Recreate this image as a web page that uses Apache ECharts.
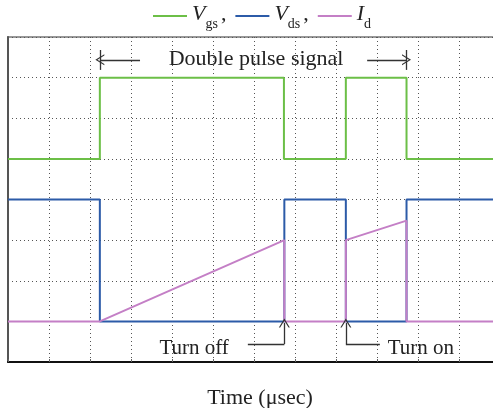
<!DOCTYPE html>
<html>
<head>
    <meta charset="utf-8">
    <title>Double pulse test</title>
    <script src="https://cdn.jsdelivr.net/npm/echarts@6/dist/echarts.min.js"></script>
    <style>
        html, body { margin: 0; padding: 0; background: #fff; }
    </style>
</head>
<body>
    <div id="main" style="width:493px;height:408px;"></div>
    <script type="text/javascript">
        // time in grid divisions, level in grid divisions
        var vgsTime = [0, 2.24, 2.24, 6.73, 6.73, 8.24, 8.24, 9.72, 9.72, 12];
        var vgsLevel = [5, 5, 7, 7, 5, 5, 7, 7, 5, 5];
        var vdsTime = [0, 2.24, 2.24, 6.74, 6.74, 8.24, 8.24, 9.72, 9.72, 12];
        var vdsLevel = [4, 4, 1, 1, 4, 4, 1, 1, 4, 4];
        var idTime = [0, 2.24, 6.74, 6.74, 8.24, 8.24, 9.72, 9.72, 12];
        var idLevel = [1, 1, 3, 1, 1, 3, 3.48, 1, 1];

        var serif = '"Liberation Serif", "DejaVu Serif", serif';

        function pairs(xs, ys) {
            var out = [];
            for (var i = 0; i < xs.length; i++) out.push([xs[i], ys[i]]);
            return out;
        }

        // thin open arrow head, tip pointing up
        var openArrow = 'path://M0,10 L5,0 L10,10 L8.8,10 L5,2.4 L1.2,10 Z';

        var myChart = echarts.init(document.getElementById('main'));

        var option = {
            backgroundColor: '#fff',
            animation: false,
            textStyle: { fontFamily: serif },
            legend: {
                top: 3,
                left: 153,
                padding: 0,
                icon: 'rect',
                itemWidth: 34,
                itemHeight: 2,
                itemGap: 9,
                data: ['Vgs', 'Vds', 'Id'],
                formatter: function (name) {
                    if (name === 'Vgs') return '{v|V}{s|gs}{c|,}';
                    if (name === 'Vds') return '{v|V}{s|ds}{c|,}';
                    return '{v|I}{s|d}';
                },
                textStyle: {
                    fontFamily: serif,
                    color: '#222',
                    rich: {
                        v: { fontFamily: serif, fontStyle: 'italic', fontSize: 22, color: '#222', height: 28, verticalAlign: 'top', padding: [6, 0, 0, 0] },
                        s: { fontFamily: serif, fontSize: 14, color: '#222', padding: [16, 0, 0, 0], height: 28, verticalAlign: 'top' },
                        c: { fontFamily: serif, fontSize: 22, color: '#222', padding: [6, 0, 0, 3], height: 28, verticalAlign: 'top' }
                    }
                }
            },
            grid: {
                left: 8,
                top: 37,
                width: 492,
                height: 325,
                outerBoundsMode: 'none',
                containLabel: false,
                show: true,
                borderColor: '#777',
                borderWidth: 1.5
            },
            xAxis: {
                type: 'value',
                min: 0,
                max: 12,
                interval: 1,
                name: 'Time (\u03bcsec)',
                nameLocation: 'middle',
                nameGap: 25,
                nameTextStyle: { fontFamily: serif, fontSize: 22, color: '#222', padding: [0, 0, 0, 12] },
                axisLine: { show: true, lineStyle: { color: '#111', width: 2 } },
                axisTick: { show: true, inside: true, length: 3, lineStyle: { color: '#666' } },
                axisLabel: { show: false },
                splitLine: { show: true, lineStyle: { color: '#555', type: [1, 3], width: 1 } }
            },
            yAxis: {
                type: 'value',
                min: 0,
                max: 8,
                interval: 1,
                axisLine: { show: true, lineStyle: { color: '#555', width: 2 } },
                axisTick: { show: false },
                axisLabel: { show: false },
                splitLine: { show: true, lineStyle: { color: '#555', type: [1, 3], width: 1 } }
            },
            series: [
                {
                    name: 'Vgs',
                    type: 'line',
                    data: pairs(vgsTime, vgsLevel),
                    showSymbol: false,
                    color: '#6cbf47',
                    lineStyle: { width: 2, color: '#6cbf47' }
                },
                {
                    name: 'Vds',
                    type: 'line',
                    data: pairs(vdsTime, vdsLevel),
                    showSymbol: false,
                    color: '#2c5ba8',
                    lineStyle: { width: 2, color: '#2c5ba8' }
                },
                {
                    name: 'Id',
                    type: 'line',
                    data: pairs(idTime, idLevel),
                    showSymbol: false,
                    color: '#c47fc6',
                    lineStyle: { width: 2, color: '#c47fc6' }
                },
                {
                    // annotations
                    name: 'notes',
                    type: 'line',
                    data: [],
                    silent: true,
                    markLine: {
                        silent: true,
                        animation: false,
                        symbolSize: [11, 9],
                        label: { show: false },
                        lineStyle: { color: '#333', width: 1.3, type: 'solid' },
                        data: [
                            [{ coord: [3.22, 7.44], symbol: 'none' }, { coord: [2.24, 7.44], symbol: openArrow }],
                            [{ coord: [2.24, 7.68], symbol: 'none' }, { coord: [2.24, 7.19], symbol: 'none' }],
                            [{ coord: [8.76, 7.44], symbol: 'none' }, { coord: [9.72, 7.44], symbol: openArrow }],
                            [{ coord: [9.72, 7.68], symbol: 'none' }, { coord: [9.72, 7.19], symbol: 'none' }],
                            [{ coord: [5.85, 0.44], symbol: 'none' }, { coord: [6.74, 0.44], symbol: 'none' }],
                            [{ coord: [6.74, 0.44], symbol: 'none' }, { coord: [6.74, 0.96], symbol: openArrow }],
                            [{ coord: [9.07, 0.44], symbol: 'none' }, { coord: [8.24, 0.44], symbol: 'none' }],
                            [{ coord: [8.24, 0.44], symbol: 'none' }, { coord: [8.24, 0.96], symbol: openArrow }]
                        ]
                    },
                    markPoint: {
                        silent: true,
                        animation: false,
                        symbol: 'circle',
                        symbolSize: 0,
                        label: {
                            show: true,
                            position: 'inside',
                            fontFamily: serif,
                            fontSize: 21,
                            color: '#222'
                        },
                        data: [
                            { coord: [6.05, 7.46], label: { formatter: 'Double pulse signal', fontSize: 22 } },
                            { coord: [4.54, 0.34], label: { formatter: 'Turn off' } },
                            { coord: [10.07, 0.34], label: { formatter: 'Turn on' } }
                        ]
                    }
                }
            ]
        };

        myChart.setOption(option);
    </script>
</body>
</html>
